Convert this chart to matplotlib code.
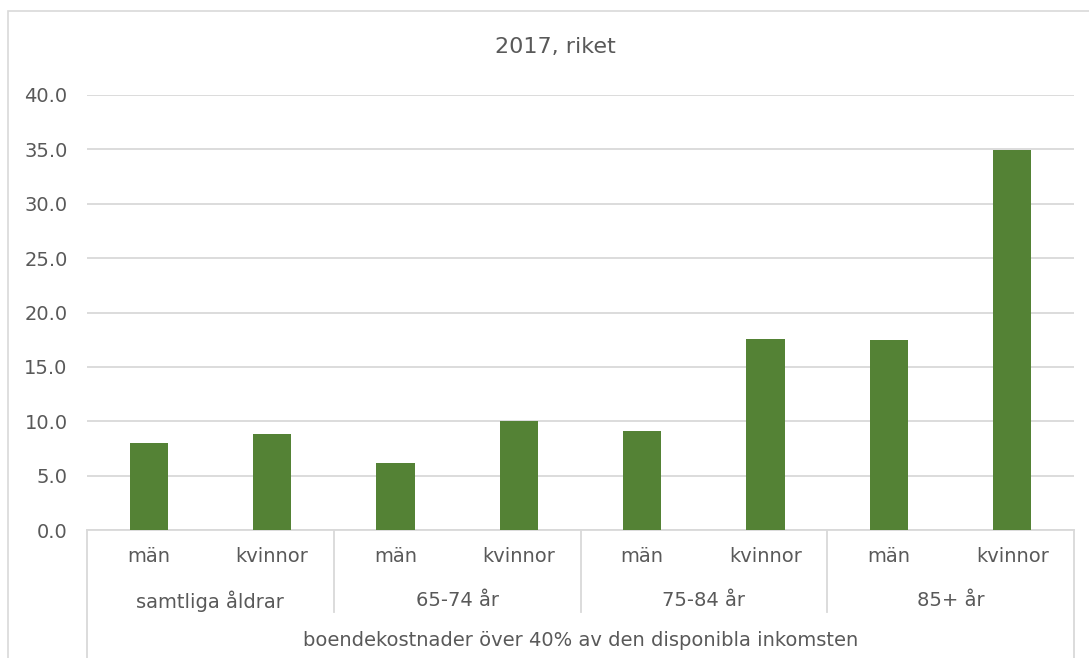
import matplotlib
matplotlib.use('Agg')
import matplotlib.pyplot as plt
import matplotlib.transforms as mtransforms
from matplotlib.patches import Rectangle

# values (percent)
sexes = ['män', 'kvinnor', 'män', 'kvinnor', 'män', 'kvinnor', 'män', 'kvinnor']
age_groups = ['samtliga åldrar', '65-74 år', '75-84 år', '85+ år']
values = [8.0, 8.8, 6.2, 10.0, 9.1, 17.6, 17.5, 34.9]
outer_label = 'boendekostnader över 40% av den disponibla inkomsten'
title = '2017, riket'

plt.rcParams['font.family'] = ['DejaVu Sans']
txt_col = '#595959'
grid_col = '#d9d9d9'
bar_col = '#548235'
fs = 14

W, H = 1089, 658
fig = plt.figure(figsize=(W / 100, H / 100), dpi=100)
# chart area frame (runs off the right and bottom edges)
fig.patches.append(Rectangle((8 / W, -0.1), 1.2, 1.1 - 11 / H, transform=fig.transFigure,
                             fill=False, edgecolor=grid_col, linewidth=1.2))

ax = fig.add_axes([87 / W, 1 - 530 / H, (1074 - 87) / W, (530 - 95) / H])
x = list(range(len(values)))
ax.bar(x, values, width=0.31, color=bar_col, zorder=3)
ax.set_xlim(-0.5, len(values) - 0.5)
ax.set_ylim(0, 40)
ax.set_yticks([i * 5 for i in range(9)])
ax.set_yticklabels(['%.1f' % (i * 5) for i in range(9)])
ax.tick_params(axis='y', length=0, pad=14, labelsize=fs, labelcolor=txt_col)
ax.set_xticks([])
ax.grid(axis='y', color=grid_col, linewidth=1.3, zorder=0)
for s in ['top', 'right', 'left']:
    ax.spines[s].set_visible(False)
ax.spines['bottom'].set_color(grid_col)
ax.spines['bottom'].set_linewidth(1.3)

fig.text(555 / W, 1 - 47 / H, title, fontsize=16, color=txt_col, ha='center', va='center')

trans = mtransforms.blended_transform_factory(ax.transData, ax.transAxes)
for i, s in enumerate(sexes):
    ax.text(i, -0.062, s, transform=trans, ha='center', va='center', fontsize=fs, color=txt_col)
for g, name in enumerate(age_groups):
    ax.text(2 * g + 0.5, -0.163, name, transform=trans, ha='center', va='center',
            fontsize=fs, color=txt_col)
ax.text((len(values) - 1) / 2, -0.253, outer_label, transform=trans, ha='center',
        va='center', fontsize=fs, color=txt_col)

# category dividers
for b in [1.5, 3.5, 5.5]:
    ax.plot([b, b], [0, -0.188], transform=trans, color=grid_col, lw=1.3, clip_on=False)
for b in [-0.5, len(values) - 0.5]:
    ax.plot([b, b], [0, -0.3], transform=trans, color=grid_col, lw=1.3, clip_on=False)

fig.savefig('out.png', dpi=100)
